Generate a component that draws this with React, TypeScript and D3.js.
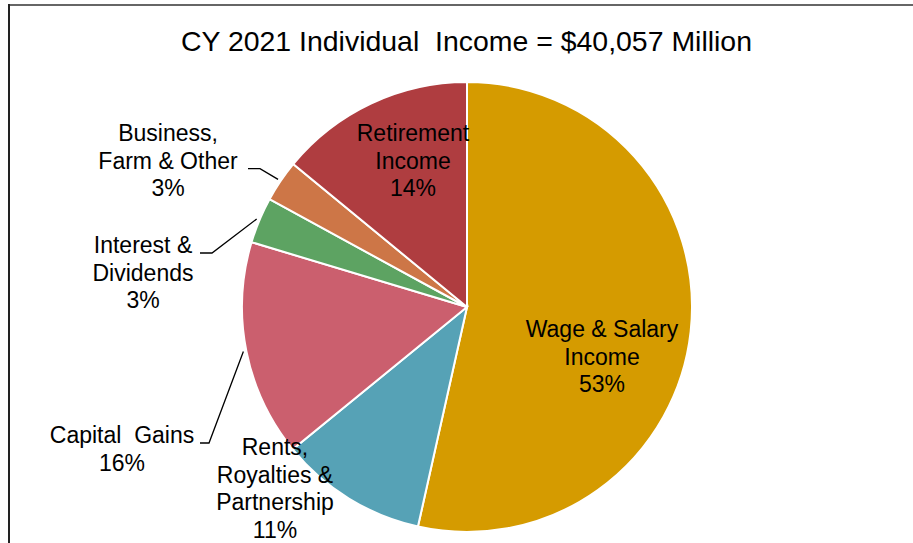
import React from "react";
import * as d3 from "d3";

// CY 2021 individual income by source, $ millions (total 40,057)
const categories = [
    "Wage & Salary Income",
    "Rents, Royalties & Partnership",
    "Capital Gains",
    "Interest & Dividends",
    "Business, Farm & Other",
    "Retirement Income",
];
const values = [21430, 4246, 6230, 1322, 1202, 5627];
const colors = ["#D59B00", "#56A2B6", "#CB5F6E", "#5DA362", "#CD7647", "#AF3D40"];
const labelLines = [
    ["Wage & Salary", "Income"],
    ["Rents,", "Royalties &", "Partnership"],
    ["Capital  Gains"],
    ["Interest &", "Dividends"],
    ["Business,", "Farm & Other"],
    ["Retirement", "Income"],
];

const title = "CY 2021 Individual  Income = $40,057 Million";

// label placement: centre x, first baseline y, leader (x where the leader starts, elbow x)
const labelPos = [
    { x: 602, y: 337 },
    { x: 275, y: 455 },
    { x: 122, y: 443, leader: [200, 209] },
    { x: 143, y: 253, leader: [200, 212] },
    { x: 168, y: 141, leader: [248, 260], leaderLine: 1 },
    { x: 413, y: 141 },
];

const W = 913;
const H = 543;
const cx = 467;
const cy = 307;
const radius = 225;
const lineH = 27.7;

const App: React.FC = () => {
    const total = d3.sum(values);
    const pie = d3
        .pie<number>()
        .sort(null)
        .value((d) => d);
    const arcs = pie(values);
    const arc = d3.arc<d3.PieArcDatum<number>>().innerRadius(0).outerRadius(radius);
    const edge = d3
        .arc<d3.PieArcDatum<number>>()
        .innerRadius(radius + 3)
        .outerRadius(radius + 3);

    return (
        <div>
            <style>{`body{margin:0}`}</style>
            <svg width={W} height={H} style={{ display: "block", fontFamily: "'Liberation Sans', Arial, sans-serif" }}>
                <rect width={W} height={H} fill="#fff" />
                <line x1={9} y1={5} x2={W} y2={5} stroke="#666" strokeWidth={2} />
                <line x1={9} y1={4} x2={9} y2={H} stroke="#222" strokeWidth={2} />
                <text
                    x={466.5}
                    y={51}
                    textAnchor="middle"
                    fontSize={28}
                    textLength={571}
                    lengthAdjust="spacingAndGlyphs"
                    fill="#000"
                    style={{ whiteSpace: "pre" }}
                >
                    {title}
                </text>
                <g transform={`translate(${cx},${cy})`}>
                    {arcs.map((d, i) => (
                        <path key={categories[i]} d={arc(d) || ""} fill={colors[i]} stroke="#fff" strokeWidth={2} />
                    ))}
                </g>
                {arcs.map((d, i) => {
                    const p = labelPos[i];
                    if (!p.leader) return null;
                    const [ex, ey] = edge.centroid(d);
                    const ly = p.y + (p.leaderLine || 0) * lineH;
                    return (
                        <polyline
                            key={"l" + i}
                            points={`${p.leader[0]},${ly} ${p.leader[1]},${ly} ${cx + ex},${cy + ey}`}
                            fill="none"
                            stroke="#000"
                            strokeWidth={1.3}
                        />
                    );
                })}
                {arcs.map((d, i) => {
                    const p = labelPos[i];
                    const pct = Math.round((d.value / total) * 100) + "%";
                    const lines = [...labelLines[i], pct];
                    return (
                        <text
                            key={"t" + i}
                            textAnchor="middle"
                            fontSize={23}
                            fill="#000"
                            style={{ whiteSpace: "pre" }}
                        >
                            {lines.map((s, j) => (
                                <tspan key={j} x={p.x} y={p.y + j * lineH}>
                                    {s}
                                </tspan>
                            ))}
                        </text>
                    );
                })}
            </svg>
        </div>
    );
};

export default App;
